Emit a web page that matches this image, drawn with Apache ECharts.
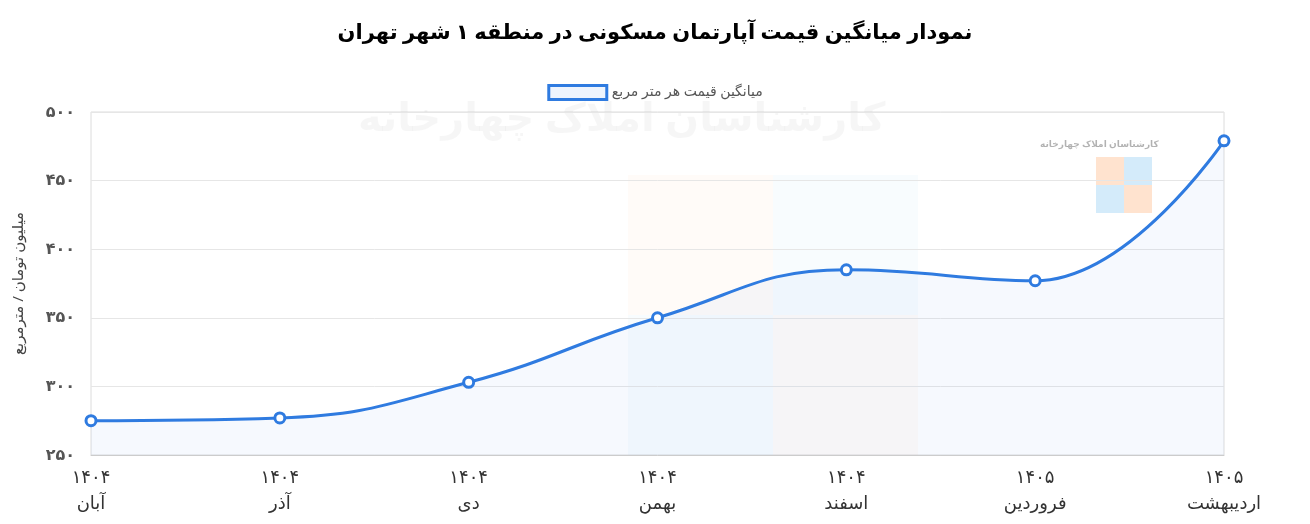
<!DOCTYPE html>
<html><head><meta charset="utf-8">
<script src="https://cdn.jsdelivr.net/npm/echarts@6/dist/echarts.min.js"></script>
<style>html,body{margin:0;padding:0;background:#fff}#c{width:1310px;height:524px}</style>
</head><body><div id="c"></div>
<script>
const months = ['آبان','آذر','دی','بهمن','اسفند','فروردین','اردیبهشت'];
const years = ['۱۴۰۴','۱۴۰۴','۱۴۰۴','۱۴۰۴','۱۴۰۴','۱۴۰۵','۱۴۰۵'];
const prices = [275, 277, 303, 350, 385, 377, 479];
const yTicks = {250:'۲۵۰',300:'۳۰۰',350:'۳۵۰',400:'۴۰۰',450:'۴۵۰',500:'۵۰۰'};
const categories = months.map((m,i)=>years[i]+'\n'+m);
const font = '"Noto Sans", "DejaVu Sans", sans-serif';
const chart = echarts.init(document.getElementById('c'));
chart.setOption({
  animation:false,
  title:{text:'نمودار میانگین قیمت آپارتمان مسکونی در منطقه ۱ شهر تهران',left:'center',top:18,
    textStyle:{fontSize:21,fontWeight:900,color:'#000',fontFamily:font}},
  legend:{top:79,left:'center',itemWidth:58,itemHeight:14,
    textStyle:{color:'#555',fontSize:14,fontFamily:font},
    data:[{name:'میانگین قیمت هر متر مربع',icon:'rect',itemStyle:{color:'#eef4fd',borderColor:'#2f7be0',borderWidth:3}}]},
  graphic:[
    {type:'text',left:358,top:100,style:{text:'کارشناسان املاک چهارخانه',fontSize:40,fontWeight:'bold',fill:'rgba(0,0,0,0.035)',fontFamily:font}},
    {type:'rect',shape:{x:628,y:175,width:145,height:140},style:{fill:'rgba(255,200,160,0.08)'}},
    {type:'rect',shape:{x:773,y:175,width:145,height:140},style:{fill:'rgba(170,215,245,0.08)'}},
    {type:'rect',shape:{x:628,y:315,width:145,height:140},style:{fill:'rgba(170,215,245,0.08)'}},
    {type:'rect',shape:{x:773,y:315,width:145,height:140},style:{fill:'rgba(255,200,160,0.08)'}},
    {type:'text',left:1040,top:140,style:{text:'کارشناسان املاک چهارخانه',fontSize:9,fontWeight:'bold',fill:'rgba(0,0,0,0.3)',fontFamily:font}},
    {type:'rect',shape:{x:1096,y:157,width:28,height:28},style:{fill:'rgba(255,200,160,0.5)'}},
    {type:'rect',shape:{x:1124,y:157,width:28,height:28},style:{fill:'rgba(170,215,245,0.5)'}},
    {type:'rect',shape:{x:1096,y:185,width:28,height:28},style:{fill:'rgba(170,215,245,0.5)'}},
    {type:'rect',shape:{x:1124,y:185,width:28,height:28},style:{fill:'rgba(255,200,160,0.5)'}}
  ],
  grid:{left:91,right:86,top:112,bottom:69,show:true,borderColor:'#dcdcdc',borderWidth:1},
  xAxis:{type:'category',data:categories,boundaryGap:false,
    axisLine:{lineStyle:{color:'#ccc'}},axisTick:{show:false},
    splitLine:{show:false},
    axisLabel:{color:'#333',fontSize:18,lineHeight:26,margin:10,fontFamily:font}},
  yAxis:{type:'value',min:250,max:500,interval:50,
    name:'میلیون تومان / مترمربع',nameLocation:'middle',nameGap:65,nameRotate:90,
    nameTextStyle:{color:'#444',fontSize:15,fontFamily:font},
    axisLine:{show:false},axisTick:{show:false},
    splitLine:{lineStyle:{color:'#e6e6e6'}},
    axisLabel:{color:'#555',fontSize:16,fontWeight:'bold',margin:16,fontFamily:font,formatter:v=>yTicks[v]}},
  series:[{name:'میانگین قیمت هر متر مربع',type:'line',smooth:0.45,data:prices,
    symbol:'circle',symbolSize:10,
    itemStyle:{color:'#fff',borderColor:'#2f7be0',borderWidth:3},
    lineStyle:{color:'#2f7be0',width:3},
    areaStyle:{color:'rgba(47,123,224,0.06)'}}]
});
</script></body></html>
